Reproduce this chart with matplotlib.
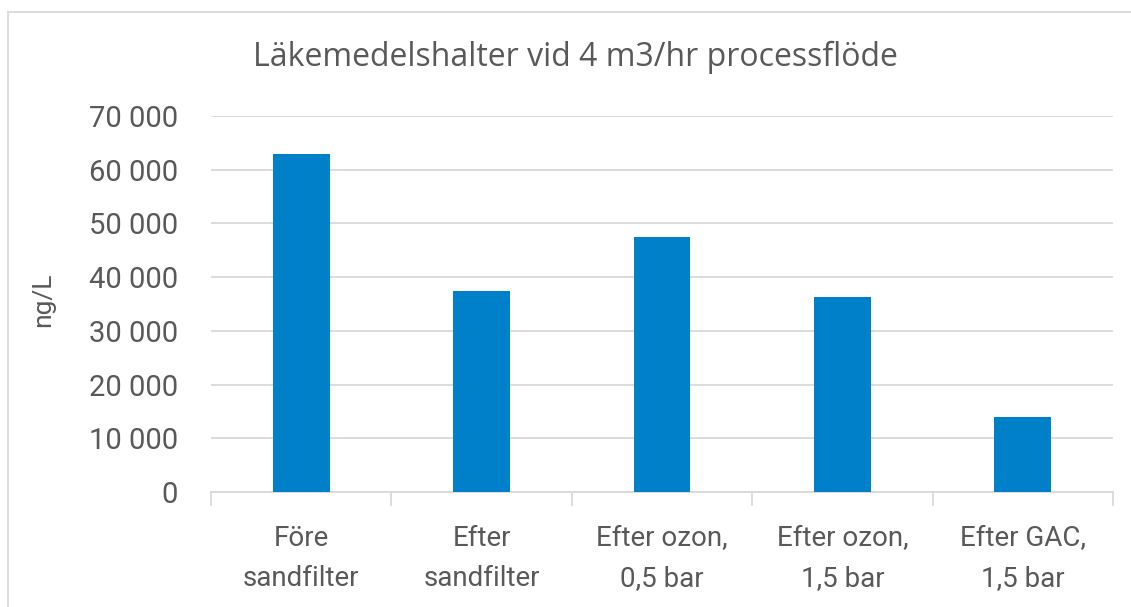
import numpy as np
import matplotlib.pyplot as plt
from matplotlib.lines import Line2D
from matplotlib.ticker import FuncFormatter

categories = ["Före\nsandfilter", "Efter\nsandfilter", "Efter ozon,\n0,5 bar",
              "Efter ozon,\n1,5 bar", "Efter GAC,\n1,5 bar"]
values = [63000, 37400, 47500, 36300, 14000]
yticks = [0, 10000, 20000, 30000, 40000, 50000, 60000, 70000]

text_col = "#595959"
grid_col = "#d9d9d9"
bar_col = "#0080c9"

plt.rcParams['font.family'] = ['Roboto', 'DejaVu Sans']

fig = plt.figure(figsize=(11.31, 6.07), dpi=100)
ax = fig.add_axes([211/1131, 1-492/607, (1113-211)/1131, (492-116)/607])

x = np.arange(len(categories))
ax.bar(x, values, width=0.315, color=bar_col, zorder=3)

ax.set_xlim(-0.5, len(categories) - 0.5)
ax.set_ylim(0, 70000)
ax.set_yticks(yticks)
ax.yaxis.set_major_formatter(FuncFormatter(lambda v, p: f"{int(v):,}".replace(",", " ")))
ax.grid(axis='y', color=grid_col, linewidth=1.3, zorder=0)

ax.set_xticks(x)
ax.set_xticklabels(categories, linespacing=1.6)
ax.set_xticks(np.arange(-0.5, len(categories)), minor=True)
ax.tick_params(axis='x', which='major', length=0, pad=24, labelsize=20, colors=text_col)
ax.tick_params(axis='x', which='minor', length=10, width=1.3, color=grid_col)
ax.tick_params(axis='y', length=0, pad=24, labelsize=21, colors=text_col)

for s in ['top', 'right', 'left']:
    ax.spines[s].set_visible(False)
ax.spines['bottom'].set_color(grid_col)
ax.spines['bottom'].set_linewidth(1.3)

fig.text(43/1131, 1-300/607, "ng/L", rotation=90, ha='center', va='center',
         fontsize=19, color=text_col)
fig.text(575/1131, 1-57/607, "Läkemedelshalter vid 4 m3/hr processflöde",
         ha='center', va='center', fontsize=23, color=text_col, family=['Open Sans', 'DejaVu Sans'])

# light chart border
fig.add_artist(Line2D([8/1131, 8/1131], [0, 1-12/607], color=grid_col, linewidth=1.3))
fig.add_artist(Line2D([8/1131, 1], [1-12/607, 1-12/607], color=grid_col, linewidth=1.3))

fig.savefig("out.png", dpi=100)
